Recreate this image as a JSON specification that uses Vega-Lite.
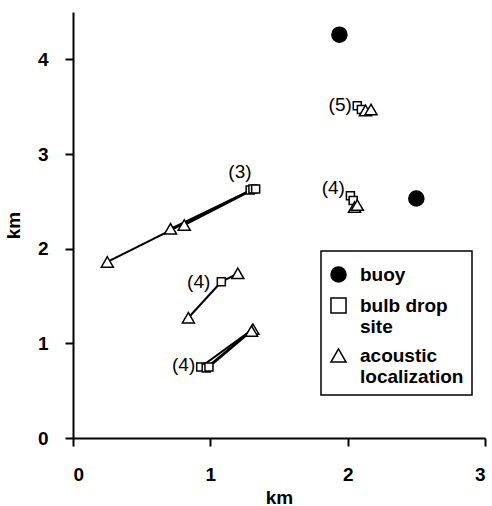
{
  "$schema": "https://vega.github.io/schema/vega-lite/v6.json",
  "autosize": "none",
  "width": 412,
  "height": 426,
  "padding": {"left": 73, "top": 12, "right": 7, "bottom": 68},
  "background": "white",
  "config": {
    "view": {"stroke": null},
    "font": "Liberation Sans",
    "axis": {"grid": false, "domainColor": "black", "domainWidth": 2, "tickColor": "black", "tickWidth": 2, "tickSize": 8,
             "labelFont": "Liberation Sans", "labelFontWeight": "bold", "labelFontSize": 19, "labelColor": "black",
             "titleFont": "Liberation Sans", "titleFontWeight": "bold", "titleFontSize": 19, "titleColor": "black"},
    "legend": {"orient": "none", "legendX": 248, "legendY": 239, "strokeColor": "black", "strokeWidth": 1.5,
               "padding": 8, "labelFont": "Liberation Sans", "labelFontWeight": "bold", "labelFontSize": 19,
               "labelColor": "black", "rowPadding": 8, "symbolStrokeColor": "black", "symbolStrokeWidth": 1.5,
               "symbolSize": 227, "labelOffset": 12, "fillColor": "white", "titleFontSize": 4, "titlePadding": 2}
  },
  "datasets": {
    "pts": [
      {"x": 1.94, "y": 4.26, "type": "buoy"},
      {"x": 2.5, "y": 2.53, "type": "buoy"},
      {"x": 1.29, "y": 2.62, "type": "bulb drop site"},
      {"x": 1.31, "y": 2.63, "type": "bulb drop site"},
      {"x": 1.33, "y": 2.63, "type": "bulb drop site"},
      {"x": 1.08, "y": 1.65, "type": "bulb drop site"},
      {"x": 0.93, "y": 0.75, "type": "bulb drop site"},
      {"x": 0.97, "y": 0.74, "type": "bulb drop site"},
      {"x": 0.99, "y": 0.75, "type": "bulb drop site"},
      {"x": 2.07, "y": 3.51, "type": "bulb drop site"},
      {"x": 2.1, "y": 3.47, "type": "bulb drop site"},
      {"x": 2.02, "y": 2.56, "type": "bulb drop site"},
      {"x": 2.04, "y": 2.51, "type": "bulb drop site"},
      {"x": 0.25, "y": 1.86, "type": "acoustic localization"},
      {"x": 0.71, "y": 2.21, "type": "acoustic localization"},
      {"x": 0.81, "y": 2.25, "type": "acoustic localization"},
      {"x": 1.2, "y": 1.74, "type": "acoustic localization"},
      {"x": 0.84, "y": 1.27, "type": "acoustic localization"},
      {"x": 1.31, "y": 1.15, "type": "acoustic localization"},
      {"x": 1.3, "y": 1.13, "type": "acoustic localization"},
      {"x": 2.13, "y": 3.46, "type": "acoustic localization"},
      {"x": 2.17, "y": 3.47, "type": "acoustic localization"},
      {"x": 2.05, "y": 2.44, "type": "acoustic localization"},
      {"x": 2.07, "y": 2.46, "type": "acoustic localization"}
    ],
    "links": [
      {"x": 1.3, "y": 2.62, "x2": 0.25, "y2": 1.86},
      {"x": 1.31, "y": 2.63, "x2": 0.71, "y2": 2.21},
      {"x": 1.32, "y": 2.63, "x2": 0.81, "y2": 2.25},
      {"x": 1.08, "y": 1.65, "x2": 0.84, "y2": 1.27},
      {"x": 1.08, "y": 1.65, "x2": 1.2, "y2": 1.74},
      {"x": 0.93, "y": 0.75, "x2": 1.31, "y2": 1.15},
      {"x": 0.97, "y": 0.74, "x2": 1.31, "y2": 1.15},
      {"x": 0.99, "y": 0.75, "x2": 1.3, "y2": 1.13},
      {"x": 2.07, "y": 3.51, "x2": 2.13, "y2": 3.46},
      {"x": 2.1, "y": 3.47, "x2": 2.17, "y2": 3.47},
      {"x": 2.02, "y": 2.56, "x2": 2.05, "y2": 2.44},
      {"x": 2.04, "y": 2.51, "x2": 2.07, "y2": 2.46}
    ],
    "notes": [
      {"x": 1.3, "y": 2.81, "label": "(3)"},
      {"x": 1.0, "y": 1.65, "label": "(4)"},
      {"x": 0.89, "y": 0.77, "label": "(4)"},
      {"x": 2.03, "y": 3.52, "label": "(5)"},
      {"x": 1.98, "y": 2.64, "label": "(4)"}
    ]
  },
  "layer": [
    {
      "data": {"name": "links"},
      "mark": {"type": "rule", "color": "black", "strokeWidth": 2},
      "encoding": {
        "x": {"field": "x", "type": "quantitative"},
        "y": {"field": "y", "type": "quantitative"},
        "x2": {"field": "x2"},
        "y2": {"field": "y2"}
      }
    },
    {
      "data": {"name": "pts"},
      "mark": {"type": "point", "strokeWidth": 1.5, "opacity": 1},
      "encoding": {
        "x": {"field": "x", "type": "quantitative", "scale": {"domain": [0, 3], "nice": false},
              "axis": {"values": [0, 1, 2, 3], "format": "d", "title": "km", "labelPadding": 19, "titlePadding": 4}},
        "y": {"field": "y", "type": "quantitative", "scale": {"domain": [0, 4.5], "nice": false},
              "axis": {"values": [0, 1, 2, 3, 4], "format": "d", "title": "km", "labelPadding": 17, "titlePadding": 14}},
        "shape": {"field": "type", "type": "nominal", "title": " ",
                  "scale": {"domain": ["buoy", "bulb drop site", "acoustic localization"], "range": ["circle", "square", "triangle-up"]},
                  "legend": {"values": ["buoy", "bulb drop site", "acoustic localization"],
                             "labelExpr": "datum.label == 'bulb drop site' ? ['bulb drop', 'site'] : datum.label == 'acoustic localization' ? ['acoustic', 'localization'] : datum.label",
                             "encode": {"symbols": {"update": {"size": {"signal": "datum.value == 'buoy' ? 200 : datum.value == 'bulb drop site' ? 70 : 110"}}}}}},
        "fill": {"field": "type", "type": "nominal", "title": " ",
                 "scale": {"domain": ["buoy", "bulb drop site", "acoustic localization"], "range": ["black", "white", "white"]}},
        "stroke": {"field": "type", "type": "nominal", "title": " ",
                 "scale": {"domain": ["buoy", "bulb drop site", "acoustic localization"], "range": ["black", "black", "black"]}},
        "size": {"field": "type", "type": "nominal", "legend": null,
                 "scale": {"domain": ["bulb drop site", "acoustic localization", "buoy"], "range": [64, 227]}}
      }
    },
    {
      "data": {"name": "notes"},
      "mark": {"type": "text", "align": "right", "baseline": "middle", "fontSize": 19, "font": "Liberation Sans", "color": "black"},
      "encoding": {
        "x": {"field": "x", "type": "quantitative"},
        "y": {"field": "y", "type": "quantitative"},
        "text": {"field": "label"}
      }
    }
  ]
}
